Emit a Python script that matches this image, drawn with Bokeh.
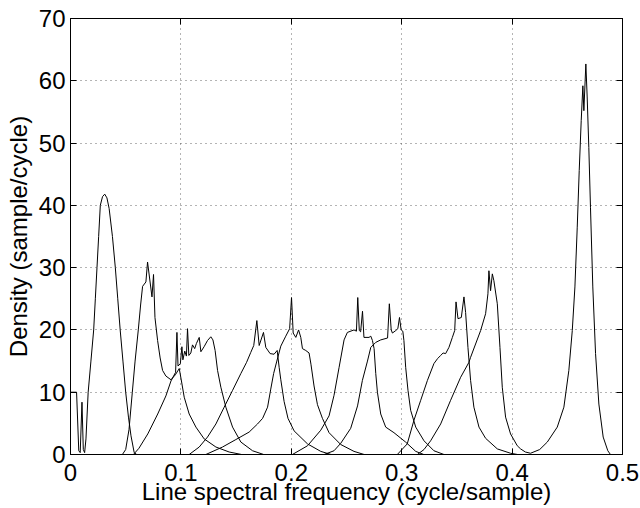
from bokeh.plotting import figure
from bokeh.models import LinearAxis, Range1d, FixedTicker
from bokeh.embed import file_html
from bokeh.resources import INLINE

# ---- data: density curves of the 10 line spectral frequencies ----
lsf1_x = [0, 0.0055, 0.0075, 0.0088, 0.0104, 0.0116, 0.0128, 0.014, 0.016, 0.0185, 0.021, 0.0225, 0.024, 0.0255,
          0.027, 0.029, 0.031, 0.033, 0.035, 0.038, 0.0406, 0.0428, 0.045, 0.0475, 0.05, 0.0525, 0.0548, 0.0577, 0.06]
lsf1_y = [10, 10, 0.6, 0.3, 8.4, 0.8, 0.3, 2.5, 10, 15, 20, 25, 30, 35,
          40, 41.4, 41.8, 41.2, 39.5, 35, 30, 25, 20, 15, 10, 6, 3, 0.3, 0]

lsf2_x = [0.047, 0.05, 0.053, 0.056, 0.0585, 0.0614, 0.0635, 0.0653, 0.0683, 0.0698, 0.0738, 0.0752, 0.0765, 0.0789,
          0.0812, 0.0834, 0.0864, 0.091, 0.095, 0.0985, 0.1005, 0.103, 0.1075, 0.1136, 0.1211, 0.1317, 0.1437, 0.155]
lsf2_y = [0, 0.8, 4, 10, 15, 20, 24, 27, 27.7, 30.9, 25.3, 28.9, 22, 18.3,
          15.5, 13.5, 12.6, 12, 12.8, 13.8, 11.8, 9.2, 6.5, 4.4, 2.5, 1.2, 0.4, 0]

lsf3_x = [0.057, 0.062, 0.07, 0.079, 0.0864, 0.091, 0.0952, 0.0964, 0.0974, 0.0995, 0.1009, 0.1018, 0.1035, 0.105,
          0.106, 0.1072, 0.109, 0.1105, 0.1125, 0.114, 0.1166, 0.1181, 0.121, 0.1241, 0.1271, 0.129, 0.131, 0.1332,
          0.1362, 0.1407, 0.1468, 0.1543, 0.1649, 0.175]
lsf3_y = [0, 1, 3.3, 6.5, 9.4, 11.8, 13.2, 19.6, 14.2, 14.6, 17.3, 15.2, 16.6, 15.8,
          20.2, 15.9, 16.3, 17.6, 17, 17.8, 18.8, 16.5, 17.3, 18.3, 18.9, 18.4, 16.7, 13.5,
          10.8, 7.6, 4.4, 2, 0.6, 0]

lsf4_x = [0.1075, 0.1166, 0.1241, 0.1317, 0.1392, 0.1468, 0.1543, 0.1595, 0.1633, 0.166, 0.1688, 0.1709, 0.1748,
          0.1769, 0.1808, 0.1844, 0.1872, 0.189, 0.1905, 0.1935, 0.197, 0.2025, 0.2147, 0.2267, 0.236]
lsf4_y = [0, 1.2, 2.8, 4.9, 7.6, 10.3, 13, 14.8, 16.4, 17.5, 21.5, 17.5, 19.6,
          17.2, 16.2, 16.1, 16.7, 14, 12, 8.5, 5.8, 3.8, 1.7, 0.5, 0]

lsf5_x = [0.1226, 0.1377, 0.1498, 0.1618, 0.1694, 0.174, 0.1785, 0.1814, 0.184, 0.1869, 0.1905, 0.195, 0.1985,
          0.2002, 0.2017, 0.2041, 0.2066, 0.2086, 0.2101, 0.2131, 0.2161, 0.2178, 0.2206, 0.2237, 0.2282, 0.2342,
          0.2448, 0.2568, 0.266]
lsf5_y = [0, 1.2, 2.4, 3.6, 4.9, 5.8, 7.6, 10.5, 13, 15, 17.4, 19, 20.2,
          25.2, 19.5, 18.8, 20, 18.8, 17, 16.7, 16.3, 14.5, 11, 8, 5.8, 3.5,
          1.6, 0.5, 0]

lsf6_x = [0.201, 0.2147, 0.2267, 0.2342, 0.2387, 0.2433, 0.2478, 0.2508, 0.2568, 0.259, 0.2602, 0.2616, 0.2628,
          0.2645, 0.2658, 0.2704, 0.272, 0.2735, 0.275, 0.2765, 0.278, 0.281, 0.2855, 0.293, 0.3035, 0.3127, 0.32]
lsf6_y = [0, 1.4, 3.9, 6.2, 9.5, 14, 18.4, 19.6, 20, 19.8, 25.2, 19.9, 19.7,
          23, 18.8, 18.8, 19, 18.3, 17, 13, 10, 6.5, 4.4, 3.5, 2, 0.5, 0]

lsf7_x = [0.2297, 0.2387, 0.2448, 0.2538, 0.26, 0.2644, 0.269, 0.272, 0.2765, 0.281, 0.2872, 0.2888, 0.2905,
          0.2916, 0.2946, 0.2965, 0.298, 0.2995, 0.301, 0.302, 0.3036, 0.3057, 0.3081, 0.3127, 0.3202, 0.3292, 0.3383]
lsf7_y = [0, 0.6, 1.8, 4.2, 7.8, 11.9, 15, 17.2, 18, 18.4, 18.7, 24.2, 20,
          19.5, 19.9, 20.2, 22, 20, 19.8, 18.3, 14, 10.3, 7.1, 4.4, 2.2, 0.6, 0]

lsf8_x = [0.296, 0.305, 0.3111, 0.3172, 0.3233, 0.3292, 0.3325, 0.3353, 0.3375, 0.3398, 0.3428, 0.3459, 0.348,
          0.3492, 0.351, 0.354, 0.3564, 0.3579, 0.36, 0.3624, 0.3654, 0.37, 0.376, 0.3866, 0.3986, 0.405]
lsf8_y = [0, 1.7, 5.5, 8.7, 11.9, 14.6, 15.4, 15.9, 16.3, 16.2, 17.2, 18.8, 19.9,
          24.5, 21.8, 22, 25.3, 22.8, 17.2, 11.9, 7.6, 4.4, 2.6, 0.9, 0.2, 0]

lsf9_x = [0.3142, 0.3202, 0.3262, 0.3353, 0.3443, 0.3534, 0.3609, 0.3624, 0.3715, 0.376, 0.3781, 0.379, 0.3805,
          0.3821, 0.3835, 0.3866, 0.389, 0.3911, 0.3941, 0.3986, 0.4047, 0.4077, 0.412, 0.4167]
lsf9_y = [0, 0.8, 2.2, 4.9, 8.7, 12.4, 14.8, 15.6, 19.9, 22.6, 25.8, 29.5, 26.3,
          29, 27.9, 24.2, 17.2, 10.8, 6, 3.3, 1.4, 0.9, 0.4, 0.2]

lsf10_x = [0.4167, 0.425, 0.4319, 0.4409, 0.4469, 0.4514, 0.4545, 0.4569, 0.459, 0.4608, 0.4626, 0.4641, 0.465,
           0.4668, 0.468, 0.4695, 0.471, 0.4731, 0.4756, 0.4786, 0.4825, 0.4867, 0.4891, 0.5]
lsf10_y = [0.2, 0.8, 2, 4.4, 7.6, 13.5, 19.9, 26.9, 36.5, 45.6, 53.6, 59.2, 55.2,
           62.7, 57.4, 49.3, 39.7, 26.9, 16.2, 8.1, 2.8, 0.6, 0, 0]

x_ticks = [0, 0.1, 0.2, 0.3, 0.4, 0.5]
x_tick_labels = ["0", "0.1", "0.2", "0.3", "0.4", "0.5"]
y_ticks = [0, 10, 20, 30, 40, 50, 60, 70]
y_tick_labels = ["0", "10", "20", "30", "40", "50", "60", "70"]

curves = [(lsf1_x, lsf1_y), (lsf2_x, lsf2_y), (lsf3_x, lsf3_y), (lsf4_x, lsf4_y), (lsf5_x, lsf5_y),
          (lsf6_x, lsf6_y), (lsf7_x, lsf7_y), (lsf8_x, lsf8_y), (lsf9_x, lsf9_y), (lsf10_x, lsf10_y)]

FONT = "Liberation Sans"
FS = "24px"

p = figure(width=640, height=508, output_backend="svg", toolbar_location=None,
           x_range=Range1d(0, 0.5), y_range=Range1d(0, 70),
           min_border_left=70, min_border_right=18, min_border_top=18, min_border_bottom=54,
           x_axis_label="Line spectral frequency (cycle/sample)",
           y_axis_label="Density (sample/cycle)")
p.background_fill_color = "white"
p.border_fill_color = "white"
p.outline_line_color = "black"
p.outline_line_width = 1

for xs, ys in curves:
    p.line(xs, ys, line_color="black", line_width=1)

def style_axis(ax, labels, ticks, show_labels=True):
    ax.ticker = FixedTicker(ticks=ticks)
    ax.major_label_overrides = {t: l for t, l in zip(ticks, labels)}
    ax.axis_line_color = "black"
    ax.axis_line_width = 1
    ax.major_tick_in = 6
    ax.major_tick_out = 0
    ax.major_tick_line_color = "black"
    ax.minor_tick_line_color = None
    ax.major_label_text_font = FONT
    ax.major_label_text_font_size = FS if show_labels else "0px"
    ax.major_label_text_color = "black"
    ax.axis_label_text_font = FONT
    ax.axis_label_text_font_size = FS
    ax.axis_label_text_font_style = "normal"
    ax.axis_label_text_color = "black"

style_axis(p.xaxis[0], x_tick_labels, x_ticks)
style_axis(p.yaxis[0], y_tick_labels, y_ticks)
p.xaxis[0].major_label_standoff = 9
p.xaxis[0].axis_label_standoff = -6
p.yaxis[0].major_label_standoff = 5
p.yaxis[0].axis_label_standoff = 4

top = LinearAxis()
right = LinearAxis()
style_axis(top, ["" for _ in x_ticks], x_ticks, show_labels=False)
style_axis(right, ["" for _ in y_ticks], y_ticks, show_labels=False)
top.major_label_standoff = 0
right.major_label_standoff = 0
p.add_layout(top, "above")
p.add_layout(right, "right")

p.xgrid.ticker = FixedTicker(ticks=x_ticks[1:-1])
p.ygrid.ticker = FixedTicker(ticks=y_ticks[1:-1])
for g in (p.xgrid[0], p.ygrid[0]):
    g.grid_line_color = "#444444"
    g.grid_line_width = 1
    g.grid_line_dash = "1 4"
    g.grid_line_alpha = 0.8

open("out.html", "w").write(file_html(p, INLINE))
